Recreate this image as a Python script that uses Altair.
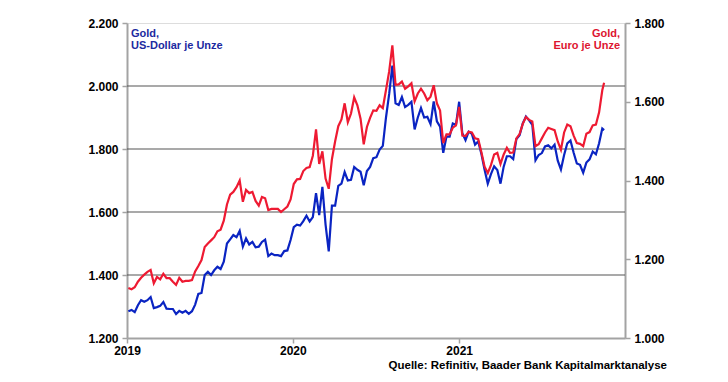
import altair as alt
import pandas as pd

# Weekly observations (Fridays) from 2019-01-04 to 2021-11-12, plus 2021-11-16
dates = pd.date_range("2019-01-04", "2021-11-12", freq="W-FRI").strftime("%Y-%m-%d").tolist() + ["2021-11-16"]

usd_2019 = [1285, 1289, 1282, 1304, 1320, 1315, 1320, 1330, 1295, 1298, 1302, 1314, 1293,
            1292, 1292, 1276, 1286, 1280, 1286, 1277, 1285, 1306, 1340, 1343, 1400, 1410,
            1400, 1415, 1426, 1419, 1442, 1500, 1513, 1527, 1520, 1540, 1490, 1516, 1497,
            1505, 1488, 1490, 1505, 1512, 1460, 1468, 1463, 1463, 1460, 1476, 1478, 1511]
usd_2020 = [1552, 1560, 1557, 1571, 1588, 1570, 1584, 1660, 1590, 1680, 1560, 1475, 1620,
            1620, 1683, 1690, 1727, 1700, 1702, 1743, 1734, 1728, 1685, 1730, 1743, 1771,
            1774, 1798, 1810, 1900, 1975, 2065, 1945, 1940, 1965, 1933, 1940, 1950, 1862,
            1900, 1930, 1900, 1902, 1879, 1951, 1888, 1871, 1788, 1839, 1839, 1881, 1877]
usd_2021 = [1950, 1850, 1828, 1855, 1848, 1814, 1824, 1784, 1734, 1690, 1720, 1745, 1733,
            1690, 1744, 1777, 1777, 1768, 1832, 1844, 1881, 1903, 1891, 1877, 1764, 1781,
            1787, 1808, 1812, 1802, 1814, 1763, 1735, 1781, 1818, 1827, 1788, 1754, 1750,
            1725, 1757, 1767, 1792, 1783, 1818, 1865, 1860]

eur_2019 = [1127, 1124, 1129, 1143, 1153, 1161, 1168, 1173, 1139, 1155, 1149, 1163, 1152,
            1152, 1143, 1135, 1153, 1143, 1145, 1145, 1147, 1169, 1183, 1198, 1231, 1240,
            1248, 1256, 1271, 1275, 1298, 1339, 1364, 1371, 1383, 1400, 1346, 1376, 1368,
            1371, 1348, 1336, 1358, 1355, 1325, 1328, 1328, 1328, 1320, 1327, 1334, 1352]
eur_2020 = [1391, 1403, 1404, 1424, 1432, 1434, 1463, 1530, 1442, 1474, 1405, 1379, 1454,
            1499, 1538, 1555, 1596, 1548, 1570, 1611, 1591, 1557, 1492, 1536, 1559, 1578,
            1577, 1591, 1584, 1630, 1677, 1743, 1643, 1644, 1651, 1633, 1639, 1647, 1601,
            1621, 1633, 1621, 1604, 1613, 1642, 1596, 1578, 1495, 1517, 1517, 1534, 1540]
eur_2021 = [1587, 1514, 1513, 1524, 1522, 1507, 1505, 1472, 1435, 1419, 1439, 1466, 1470,
            1442, 1466, 1483, 1470, 1471, 1507, 1518, 1544, 1561, 1554, 1550, 1487, 1492,
            1507, 1522, 1534, 1531, 1528, 1499, 1478, 1522, 1542, 1538, 1514, 1495, 1493,
            1487, 1519, 1523, 1540, 1542, 1573, 1629, 1648]

usd_ticks = [1200, 1400, 1600, 1800, 2000, 2200]
eur_ticks = [1000, 1200, 1400, 1600, 1800]
grid_values = [1400, 1600, 1800, 2000]
year_ticks = [2019, 2020, 2021]

label_usd = ["Gold,", "US-Dollar je Unze"]
label_eur = ["Gold,", "Euro je Unze"]
source = "Quelle: Refinitiv, Baader Bank Kapitalmarktanalyse"

usd = usd_2019 + usd_2020 + usd_2021
eur = eur_2019 + eur_2020 + eur_2021
assert len(dates) == len(usd) == len(eur)

df = pd.DataFrame({"date": dates, "usd": usd, "eur": eur})
grid_df = pd.DataFrame({"v": grid_values})

FONT = "Liberation Sans"
BLUE = "#0a24c2"
RED = "#ee1a32"
FRAME = "#a3a3a3"
GER = "replace(format(datum.value, ',.0f'), ',', '.')"

x_scale = alt.Scale(type="utc", domain=[alt.DateTime(year=2019, month=1, date=1, utc=True),
                                        alt.DateTime(year=2022, month=1, date=1, utc=True)])
x_axis = alt.Axis(values=[alt.DateTime(year=y, month=1, date=1, utc=True) for y in year_ticks],
                  format="%Y", title=None, grid=False, labelFont=FONT, labelFontSize=12,
                  labelFontWeight="bold", labelColor="black", tickColor=FRAME, tickSize=5,
                  tickWidth=1.5, domainColor=FRAME, domainWidth=2, labelPadding=2,
                  labelFlush=False)
usd_scale = alt.Scale(domain=[1200, 2200], nice=False, zero=False)
eur_scale = alt.Scale(domain=[1000, 1800], nice=False, zero=False)

left_axis = alt.Axis(values=usd_ticks, labelExpr=GER, title=None, grid=False, orient="left",
                     labelFont=FONT, labelFontSize=12, labelFontWeight="bold", labelColor="black",
                     tickColor=FRAME, tickSize=5, tickWidth=1.5, domainColor=FRAME,
                     domainWidth=2, labelPadding=4)
right_axis = alt.Axis(values=eur_ticks, labelExpr=GER, title=None, grid=False, orient="right",
                      labelFont=FONT, labelFontSize=12, labelFontWeight="bold", labelColor="black",
                      tickColor=FRAME, tickSize=5, tickWidth=1.5, domainColor=FRAME,
                      domainWidth=2, labelPadding=4)

grid = alt.Chart(grid_df).mark_rule(color="#555555", strokeWidth=1.2).encode(
    y=alt.Y("v:Q", scale=usd_scale, axis=left_axis)
)
blue = alt.Chart(df).mark_line(color=BLUE, strokeWidth=2.2).encode(
    x=alt.X("date:T", scale=x_scale, axis=x_axis),
    y=alt.Y("usd:Q", scale=usd_scale, axis=left_axis),
)
left = alt.layer(grid, blue)

red = alt.Chart(df).mark_line(color=RED, strokeWidth=2.2).encode(
    x=alt.X("date:T", scale=x_scale, axis=x_axis),
    y=alt.Y("eur:Q", scale=eur_scale, axis=right_axis),
)

def text_layer(txt, x, y, color, align, size=11):
    return alt.Chart(pd.DataFrame({"t": [txt]})).mark_text(
        font=FONT, fontSize=size, fontWeight="bold", color=color, align=align, baseline="alphabetic"
    ).encode(text="t:N", x=alt.value(x), y=alt.value(y))

texts = [
    text_layer(label_usd[0], 4, 14, "#1c2aa0", "left"),
    text_layer(label_usd[1], 4, 26, "#1c2aa0", "left"),
    text_layer(label_eur[0], 493, 14, "#dd1530", "right"),
    text_layer(label_eur[1], 493, 26, "#dd1530", "right"),
    text_layer(source, 540, 346, "black", "right", 11.5),
]

chart = alt.layer(left, red, *texts).resolve_scale(y="independent").properties(
    width=498, height=315,
    autosize=alt.AutoSizeParams(type="none"),
    padding={"left": 119, "top": 15, "right": 95, "bottom": 36},
).configure_view(stroke=FRAME, strokeWidth=2).configure(background="white")

chart.save("out.html", embed_options={"renderer": "svg", "actions": False})
